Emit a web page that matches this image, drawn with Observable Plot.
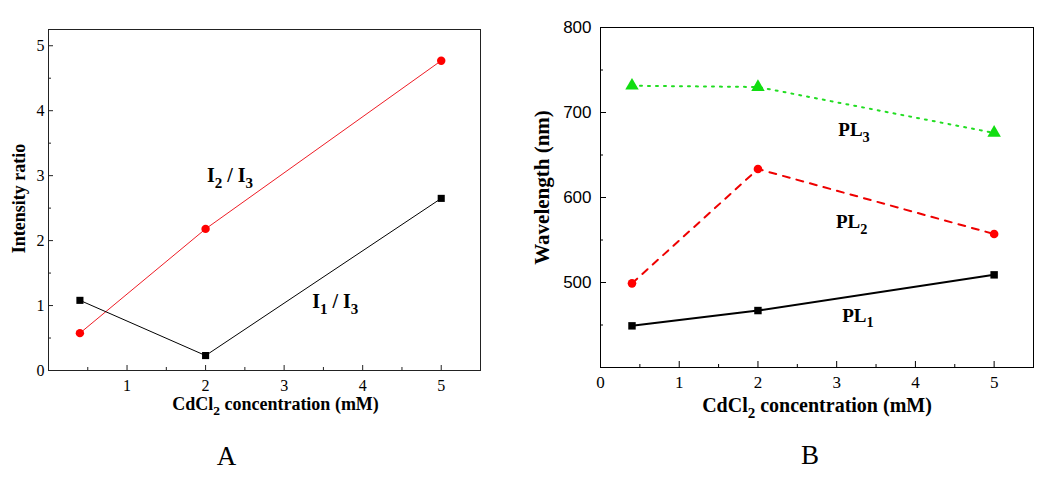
<!DOCTYPE html>
<html><head><meta charset="utf-8">
<script src="https://cdn.jsdelivr.net/npm/d3@7"></script>
<script src="https://cdn.jsdelivr.net/npm/@observablehq/plot@0.6"></script>
<style>
body{margin:0;background:#fff;}
#wrap{position:relative;width:1044px;height:479px;overflow:hidden;}
#pa{position:absolute;left:0;top:0;}
#pb{position:absolute;left:520px;top:0;}
svg{overflow:visible;}
</style></head><body><div id="wrap"><div id="pa"></div><div id="pb"></div></div>
<script>
// ---- data ----
const conc = [0.4, 2, 5];
const i1i3 = [1.08, 0.23, 2.65];
const i2i3 = [0.575, 2.18, 4.77];
const pl1 = [449, 467, 509];
const pl2 = [499, 633.5, 557];
const pl3 = [731.5, 730, 676];
const xTicksA = [1, 2, 3, 4, 5];
const xTicksB = [0, 1, 2, 3, 4, 5];
const xMinor = [0.5, 1.5, 2.5, 3.5, 4.5];
const yTicksA = [0, 1, 2, 3, 4, 5];
const yMinorA = [0.5, 1.5, 2.5, 3.5, 4.5];
const yTicksB = [500, 600, 700, 800];
const yMinorB = [450, 550, 650, 750];
const labelsA = [{t: "I_2 / I_3", x: 2.31, y: 3.0}, {t: "I_1 / I_3", x: 3.65, y: 1.06}];
const labelsB = [{t: "PL_3", x: 3.22, y: 679}, {t: "PL_2", x: 3.19, y: 571}, {t: "PL_1", x: 3.27, y: 461}];

const rowsA = conc.map((c, i) => ({c, a: i1i3[i], b: i2i3[i]}));
const rowsB = conc.map((c, i) => ({c, p1: pl1[i], p2: pl2[i], p3: pl3[i]}));

const serif = "'Liberation Serif', 'Times New Roman', serif";
const sans = "'Liberation Sans', Arial, sans-serif";

function subs(svg) {
  d3.select(svg).selectAll("text").each(function () {
    const nodes = this.querySelectorAll("tspan").length ? [...this.querySelectorAll("tspan")] : [this];
    nodes.forEach(n => {
      const s = n.textContent;
      if (!s.includes("_")) return;
      n.textContent = "";
      const parts = s.split(/_(\d)/);
      parts.forEach((p, i) => {
        if (!p) return;
        const ts = document.createElementNS("http://www.w3.org/2000/svg", "tspan");
        ts.textContent = p;
        if (i % 2 === 1) { ts.setAttribute("font-size", "75%"); ts.setAttribute("dy", "0.4em"); }
        else if (i > 0) { ts.setAttribute("dy", "-0.3em"); }
        n.appendChild(ts);
      });
    });
  });
  return svg;
}

// ---- panel A ----
const mA = {l: 48, r: 40, t: 29, b: 109}, WA = 520, HA = 479;
const fwA = WA - mA.l - mA.r, fhA = HA - mA.t - mA.b;
const A = Plot.plot({
  width: WA, height: HA,
  marginLeft: mA.l, marginRight: mA.r, marginTop: mA.t, marginBottom: mA.b,
  style: {fontFamily: serif, fontSize: "16px", color: "black", background: "white"},
  x: {domain: [0, 5.5]},
  y: {domain: [0, 5.25]},
  marks: [
    Plot.frame({stroke: "#222"}),
    Plot.tickX(xTicksA, {x: d => d, insetTop: fhA - 5, stroke: "#222"}),
    Plot.tickX(xMinor, {x: d => d, insetTop: fhA - 3, stroke: "#222"}),
    Plot.tickY(yTicksA, {y: d => d, insetRight: fwA - 5, stroke: "#222"}),
    Plot.tickY(yMinorA, {y: d => d, insetRight: fwA - 3, stroke: "#222"}),
    Plot.axisX(xTicksA, {tickSize: 0, tickPadding: 9, label: null, fontSize: 16, tickFormat: d3.format("d")}),
    Plot.axisY(yTicksA, {tickSize: 0, tickPadding: 4, label: null, fontSize: 16, tickFormat: d3.format("d")}),
    Plot.line(rowsA, {x: "c", y: "b", stroke: "#ee1c25", strokeWidth: 1}),
    Plot.line(rowsA, {x: "c", y: "a", stroke: "black", strokeWidth: 1}),
    Plot.dot(rowsA, {x: "c", y: "b", r: 4.2, fill: "#ff0000", symbol: "circle"}),
    Plot.dot(rowsA, {x: "c", y: "a", r: 4, fill: "black", symbol: "square"}),
    Plot.text(labelsA, {x: "x", y: "y", text: "t", fontWeight: "bold", fontSize: 20}),
    Plot.text(["Intensity ratio"], {text: d => d, frameAnchor: "left", textAnchor: "middle", lineAnchor: "middle", rotate: -90, dx: -29, dy: -1.5, fontWeight: "bold", fontSize: 18}),
    Plot.text(["CdCl_2 concentration (mM)"], {text: d => d, frameAnchor: "bottom", textAnchor: "middle", dx: 11, dy: 39, fontWeight: "bold", fontSize: 18}),
    Plot.text(["A"], {text: d => d, frameAnchor: "bottom", textAnchor: "middle", dx: -38, dy: 94, fontSize: 27})
  ]
});
document.getElementById("pa").appendChild(subs(A));

// ---- panel B ----
const mB = {l: 80, r: 11, t: 27, b: 112}, WB = 524, HB = 479;
const fwB = WB - mB.l - mB.r, fhB = HB - mB.t - mB.b;
const B = Plot.plot({
  width: WB, height: HB,
  marginLeft: mB.l, marginRight: mB.r, marginTop: mB.t, marginBottom: mB.b,
  style: {fontFamily: serif, fontSize: "17px", color: "black", background: "white"},
  x: {domain: [0, 5.5]},
  y: {domain: [400, 800]},
  marks: [
    Plot.frame({stroke: "black"}),
    Plot.tickX(xTicksB, {x: d => d, insetTop: fhB - 6, stroke: "black"}),
    Plot.tickX(xMinor, {x: d => d, insetTop: fhB - 3, stroke: "black"}),
    Plot.tickY(yTicksB, {y: d => d, insetRight: fwB - 6, stroke: "black"}),
    Plot.tickY(yMinorB, {y: d => d, insetRight: fwB - 3, stroke: "black"}),
    Plot.axisX(xTicksB, {tickSize: 0, tickPadding: 8, label: null, fontSize: 17, tickFormat: d3.format("d")}),
    Plot.axisY(yTicksB, {tickSize: 0, tickPadding: 9, label: null, fontSize: 17, fontFamily: sans, tickFormat: d3.format("d")}),
    Plot.line(rowsB, {x: "c", y: "p3", stroke: "#22dd22", strokeWidth: 2, strokeDasharray: "2 6"}),
    Plot.line(rowsB, {x: "c", y: "p2", stroke: "#ee0000", strokeWidth: 2, strokeDasharray: "7 7"}),
    Plot.line(rowsB, {x: "c", y: "p1", stroke: "black", strokeWidth: 2}),
    Plot.dot(rowsB, {x: "c", y: "p3", r: 5, fill: "#11dd11", symbol: "triangle"}),
    Plot.dot(rowsB, {x: "c", y: "p2", r: 4.3, fill: "#ff0000", symbol: "circle"}),
    Plot.dot(rowsB, {x: "c", y: "p1", r: 4.2, fill: "black", symbol: "square"}),
    Plot.text(labelsB, {x: "x", y: "y", text: "t", fontWeight: "bold", fontSize: 19}),
    Plot.text(["Wavelength (nm)"], {text: d => d, frameAnchor: "left", textAnchor: "middle", lineAnchor: "middle", rotate: -90, dx: -58, dy: -10, fontWeight: "bold", fontSize: 21}),
    Plot.text(["CdCl_2 concentration (mM)"], {text: d => d, frameAnchor: "bottom", textAnchor: "middle", dx: 0, dy: 44, fontWeight: "bold", fontSize: 20}),
    Plot.text(["B"], {text: d => d, frameAnchor: "bottom", textAnchor: "middle", dx: -7, dy: 96, fontSize: 27})
  ]
});
document.getElementById("pb").appendChild(subs(B));
</script>
</body></html>
